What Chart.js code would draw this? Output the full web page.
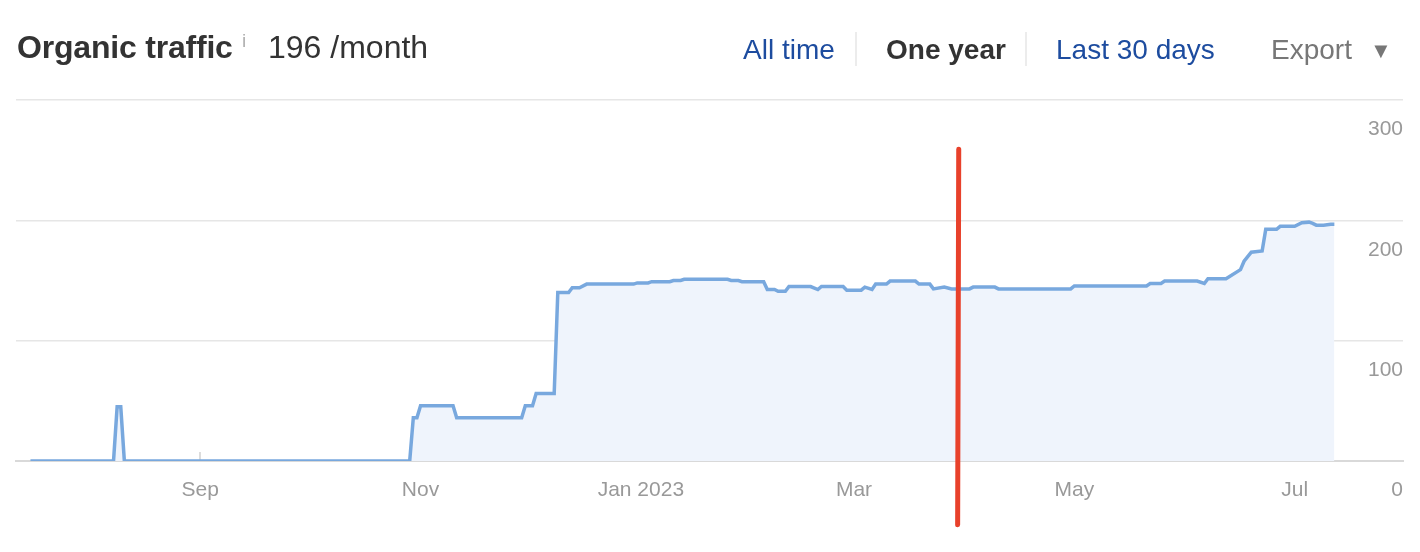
<!DOCTYPE html>
<html>
<head>
<meta charset="utf-8">
<script src="https://cdn.jsdelivr.net/npm/chart.js@4.4.0/dist/chart.umd.min.js"></script>
<style>
  body { margin: 0; background: #fff; font-family: "Liberation Sans", Arial, sans-serif; }
  .wrap { position: relative; width: 1420px; height: 552px; overflow: hidden; }
  .chart-box { position: absolute; left: 0; top: 0; width: 1420px; height: 552px; }
  .hdr { position: absolute; white-space: nowrap; line-height: 1; }
  .title { left: 17px; top: 31px; font-size: 32px; font-weight: bold; color: #333; letter-spacing: -0.2px; }
  .info { left: 242px; top: 31px; font-size: 19px; color: #b0b0b0; }
  .value { left: 268px; top: 31px; font-size: 32px; color: #333; }
  .link { top: 36px; font-size: 28px; color: #1d4c9f; }
  .active { top: 36px; font-size: 28px; font-weight: bold; color: #333; }
  .sep { position: absolute; top: 32px; width: 2px; height: 34px; background: #ececec; }
  .export { left: 1271px; top: 36px; font-size: 28px; color: #777; }
  .arrow { left: 1370px; top: 40px; font-size: 22px; color: #777; }
</style>
</head>
<body>
<div class="wrap">
  <div class="chart-box"><canvas id="trafficChart"></canvas></div>
  <span class="hdr title">Organic traffic</span>
  <span class="hdr info">i</span>
  <span class="hdr value">196 /month</span>
  <span class="hdr link" style="left:743px">All time</span>
  <div class="sep" style="left:855px"></div>
  <span class="hdr active" style="left:886px">One year</span>
  <div class="sep" style="left:1025px"></div>
  <span class="hdr link" style="left:1056px">Last 30 days</span>
  <span class="hdr export">Export</span>
  <span class="hdr arrow">&#9660;</span>
</div>
<script>
// days counted from Jul 1 2022
const days = [15, 38, 39, 40, 41, 120, 121, 122, 123, 132, 133, 151, 152, 154, 155, 160, 161, 164,
  165, 167, 169, 182, 183, 186, 187, 192, 193, 195, 196, 208, 209, 211, 212, 218, 219, 221, 222,
  224, 225, 231, 233, 234, 240, 241, 245, 246, 248, 249, 252, 253, 260, 261, 264, 265, 268, 270,
  275, 276, 282, 283, 303, 304, 324, 325, 328, 329, 338, 340, 341, 346, 350, 351, 353, 356, 357,
  360, 361, 365, 367, 369, 370, 371, 373, 375, 376];
const visits = [0, 0, 45, 45, 0, 0, 36, 36, 46, 46, 36, 36, 46, 46, 56, 56, 140, 140,
  144, 144, 147, 147, 148, 148, 149, 149, 150, 150, 151, 151, 150, 150, 149, 149, 142.5, 142.5, 141,
  141, 145, 145, 142.5, 145, 145, 142, 142, 144.5, 142.5, 147, 147, 149.5, 149.5, 147, 147, 143, 144.5, 143,
  143, 144.5, 144.5, 143, 143, 145.5, 145.5, 147.5, 147.5, 149.5, 149.5, 147.5, 151.5, 151.5, 159, 166, 173.5, 174.5, 192.5,
  192.5, 195, 195, 198, 198.5, 197.5, 196, 196, 196.7, 196.7];

const monthDays = [62, 123, 184, 243, 304, 365];
const monthLabels = ["Sep", "Nov", "Jan 2023", "Mar", "May", "Jul"];
const yTicks = [0, 100, 200, 300];

// red marker drawn over the chart
const markerDays = [272, 271.7];
const markerValues = [259, -53];

Chart.defaults.font.family = '"Liberation Sans", Arial, sans-serif';

const ctx = document.getElementById("trafficChart");
new Chart(ctx, {
  type: "line",
  data: {
    datasets: [
      {
        label: "Marker",
        data: markerDays.map((d, i) => ({ x: d, y: markerValues[i] })),
        borderColor: "#e8412b",
        borderWidth: 5,
        borderCapStyle: "round",
        pointRadius: 0,
        fill: false,
        clip: false,
      },
      {
        label: "Organic traffic",
        data: days.map((d, i) => ({ x: d, y: visits[i] })),
        borderColor: "#78a8de",
        backgroundColor: "#eff4fc",
        borderWidth: 3.5,
        pointRadius: 0,
        tension: 0,
        fill: "origin",
      },
    ],
  },
  options: {
    responsive: true,
    maintainAspectRatio: false,
    animation: false,
    layout: { padding: { left: 16, right: 17, top: 100, bottom: 0 } },
    plugins: {
      legend: { display: false },
      tooltip: { enabled: false },
    },
    scales: {
      x: {
        type: "linear",
        min: 11,
        max: 395,
        z: 1,
        afterBuildTicks: (scale) => {
          scale.ticks = monthDays.map((v) => ({ value: v }));
        },
        afterFit: (scale) => {
          scale.height = 91;
        },
        ticks: {
          callback: (value, index) => monthLabels[index],
          color: "#999",
          font: { size: 21 },
          padding: 26,
          maxRotation: 0,
          autoSkip: false,
        },
        grid: {
          drawOnChartArea: false,
          drawTicks: true,
          tickLength: -9,
          color: "#dcdcdc",
          lineWidth: 2,
        },
        border: { display: true, color: "#d9d9d9", width: 2 },
      },
      y: {
        position: "right",
        min: 0,
        max: 300,
        afterBuildTicks: (scale) => {
          scale.ticks = yTicks.map((v) => ({ value: v }));
        },
        afterFit: (scale) => {
          scale.width = 0;
        },
        ticks: {
          mirror: true,
          labelOffset: 29.5,
          padding: 0,
          color: "#999",
          font: { size: 21 },
        },
        grid: { color: "#e6e6e6", lineWidth: 1.5, drawTicks: false },
        border: { display: false },
      },
    },
  },
});
</script>
</body>
</html>
